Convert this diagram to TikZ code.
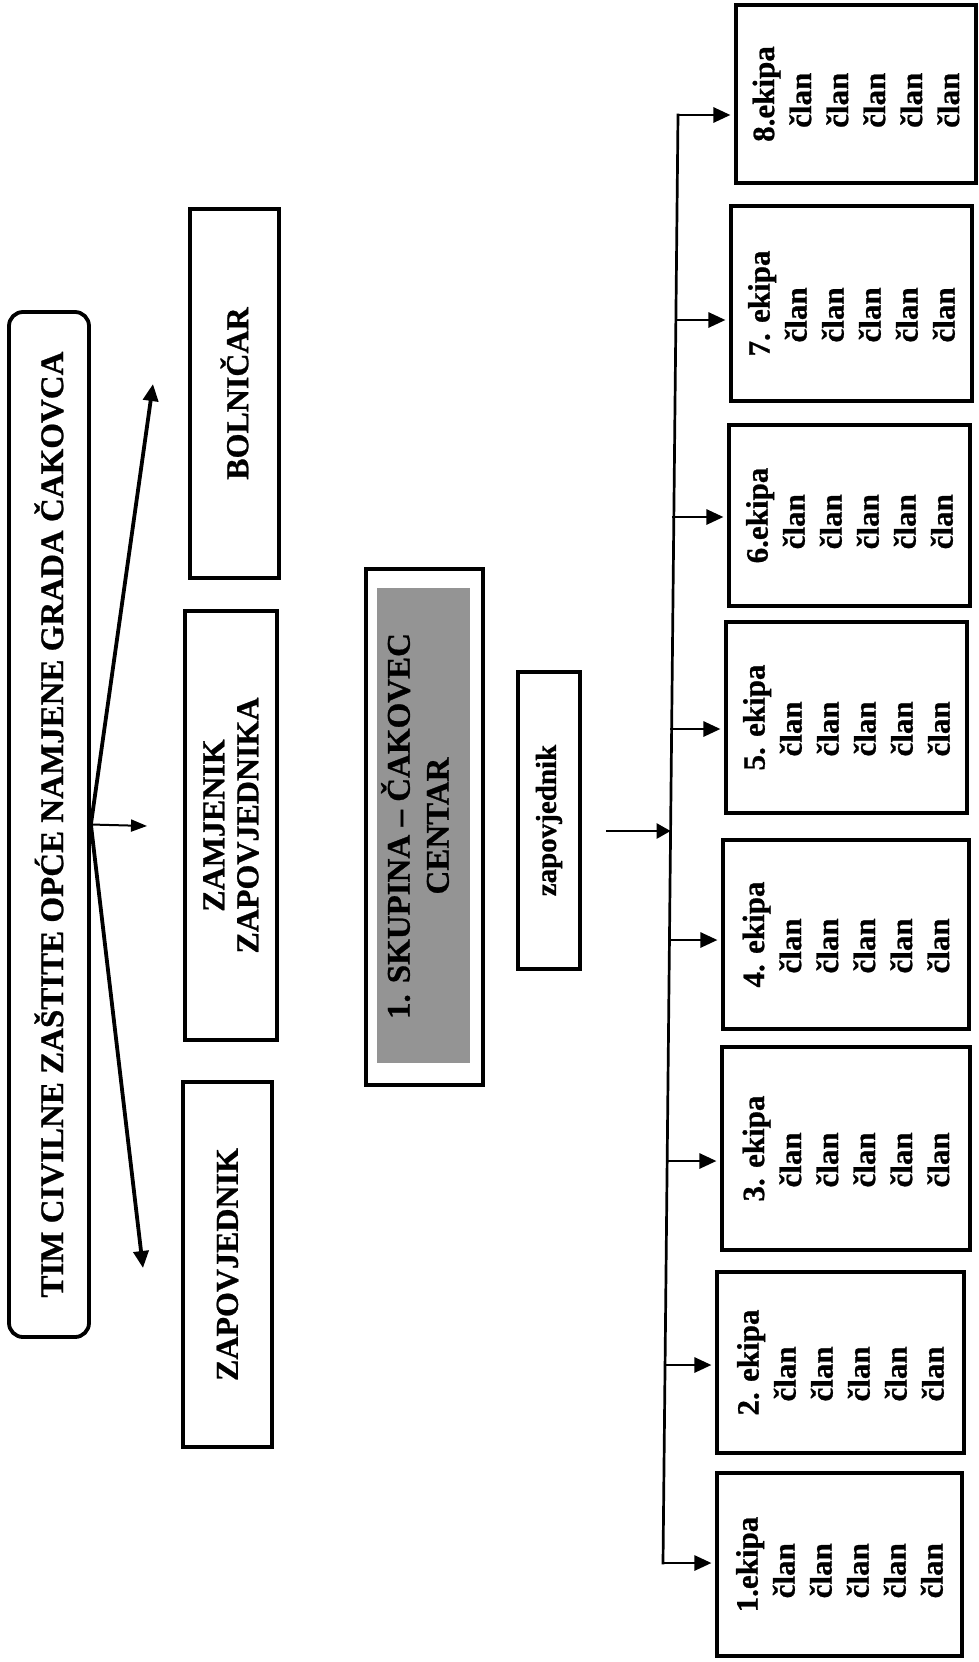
\documentclass[tikz,border=0pt]{standalone}
\usepackage{fontspec}
\setmainfont{Liberation Serif}[BoldFeatures={FakeBold=0.8}]
\usetikzlibrary{arrows.meta}
\definecolor{halftone}{gray}{0.58}
\newcommand\clanovi{\\\hspace*{14pt}član\\\hspace*{14pt}član\\\hspace*{14pt}član\\\hspace*{14pt}član\\\hspace*{14pt}član}
\begin{document}
\begin{tikzpicture}[x=1pt,y=-1pt,
  vbox/.style={draw, line width=3.1pt, rotate=90, inner sep=0pt, align=center, font=\bfseries\fontsize{32}{34}\selectfont},
  ekbox/.style={draw, line width=3.1pt, rotate=90, inner sep=0pt, align=left, font=\bfseries\fontsize{31}{37}\selectfont},
  fan/.style={line width=3.8pt, -{Triangle[length=17pt,width=15pt]}},
  branch/.style={line width=2.7pt, line cap=rect, -{Triangle[length=17pt,width=15pt]}, shorten >=4pt},
  busline/.style={line width=2.7pt, line cap=rect},
]
\fill[white] (0,0) rectangle (979,1662);
\useasboundingbox (0,0) rectangle (979,1662);

% title
\node[draw, rounded corners=14pt, line width=3.8pt, rotate=90, minimum width=1025pt, minimum height=80pt, inner sep=0pt, font=\bfseries\fontsize{33}{38}\selectfont] (title) at (49,824.5) {TIM CIVILNE ZAŠTITE OPĆE NAMJENE GRADA ČAKOVCA};

% fan arrows
\coordinate (tB) at (153,384);
\coordinate (tM) at (147,826);
\coordinate (tZ) at (143,1268);
\draw[fan] (title.south) -- (tB);
\draw[fan] (title.south) -- (tZ);
\draw[line width=2pt, -{Triangle[length=16pt,width=12pt]}] (title.south) -- (tM);

% side boxes
\node[vbox, minimum width=365pt, minimum height=89pt] (zap) at (227.5,1264.5) {ZAPOVJEDNIK};
\node[vbox, minimum width=429pt, minimum height=92pt] (zam) at (231,825.5) {ZAMJENIK\\ZAPOVJEDNIKA};
\node[vbox, minimum width=369pt, minimum height=89pt] (bol) at (234.5,393.5) {BOLNIČAR};

% group box
\node[draw, line width=3.3pt, rotate=90, minimum width=516pt, minimum height=117pt, inner sep=0pt] (grp) at (424.5,827) {};
\node[fill=halftone, rotate=90, minimum width=475pt, minimum height=93pt, inner sep=0pt] (grpin) at (423.5,825.5) {};
\node[rotate=90, inner sep=0pt, align=center, font=\bfseries\fontsize{33}{39}\selectfont] (grptxt) at (415,826) {1. SKUPINA – ČAKOVEC\\CENTAR};

% commander
\node[draw, line width=3.3pt, rotate=90, minimum width=297pt, minimum height=62pt, inner sep=0pt, font=\bfseries\fontsize{29}{34}\selectfont] (cmd) at (549,820.5) {zapovjednik};

% bus
\coordinate (b8) at (678,115);
\coordinate (b7) at (675.9,320);
\coordinate (b6) at (673.8,517);
\coordinate (b5) at (671.6,729);
\coordinate (b4) at (669.5,940);
\coordinate (b3) at (667.2,1161);
\coordinate (b2) at (665.1,1365);
\coordinate (b1) at (663,1563);
\coordinate (bm) at (670.6,831);
\coordinate (cmdout) at (606,831);
\draw[line width=2.7pt, -{Triangle[length=14pt,width=15pt]}] (cmdout) -- (bm);
\draw[busline] (b8) -- (b1);

% teams
\node[ekbox, minimum width=178pt, minimum height=240pt] (e8) at (856,94) {8.ekipa\clanovi};
\node[ekbox, minimum width=195pt, minimum height=241pt] (e7) at (851.5,303.5) {7. ekipa\clanovi};
\node[ekbox, minimum width=181pt, minimum height=241pt] (e6) at (849.5,515.5) {6.ekipa\clanovi};
\node[ekbox, minimum width=191pt, minimum height=241pt] (e5) at (846.5,717.5) {5. ekipa\clanovi};
\node[ekbox, minimum width=189pt, minimum height=246pt] (e4) at (846,934.5) {4. ekipa\clanovi};
\node[ekbox, minimum width=203pt, minimum height=248pt] (e3) at (846,1148.5) {3. ekipa\clanovi};
\node[ekbox, minimum width=181pt, minimum height=247pt] (e2) at (840.5,1362.5) {2. ekipa\clanovi};
\node[ekbox, minimum width=183pt, minimum height=245pt] (e1) at (839.5,1564.5) {1.ekipa\clanovi};

\foreach \k in {1,...,8}{
  \draw[branch] (b\k) -- (b\k -| e\k.north);
}
\end{tikzpicture}
\end{document}
